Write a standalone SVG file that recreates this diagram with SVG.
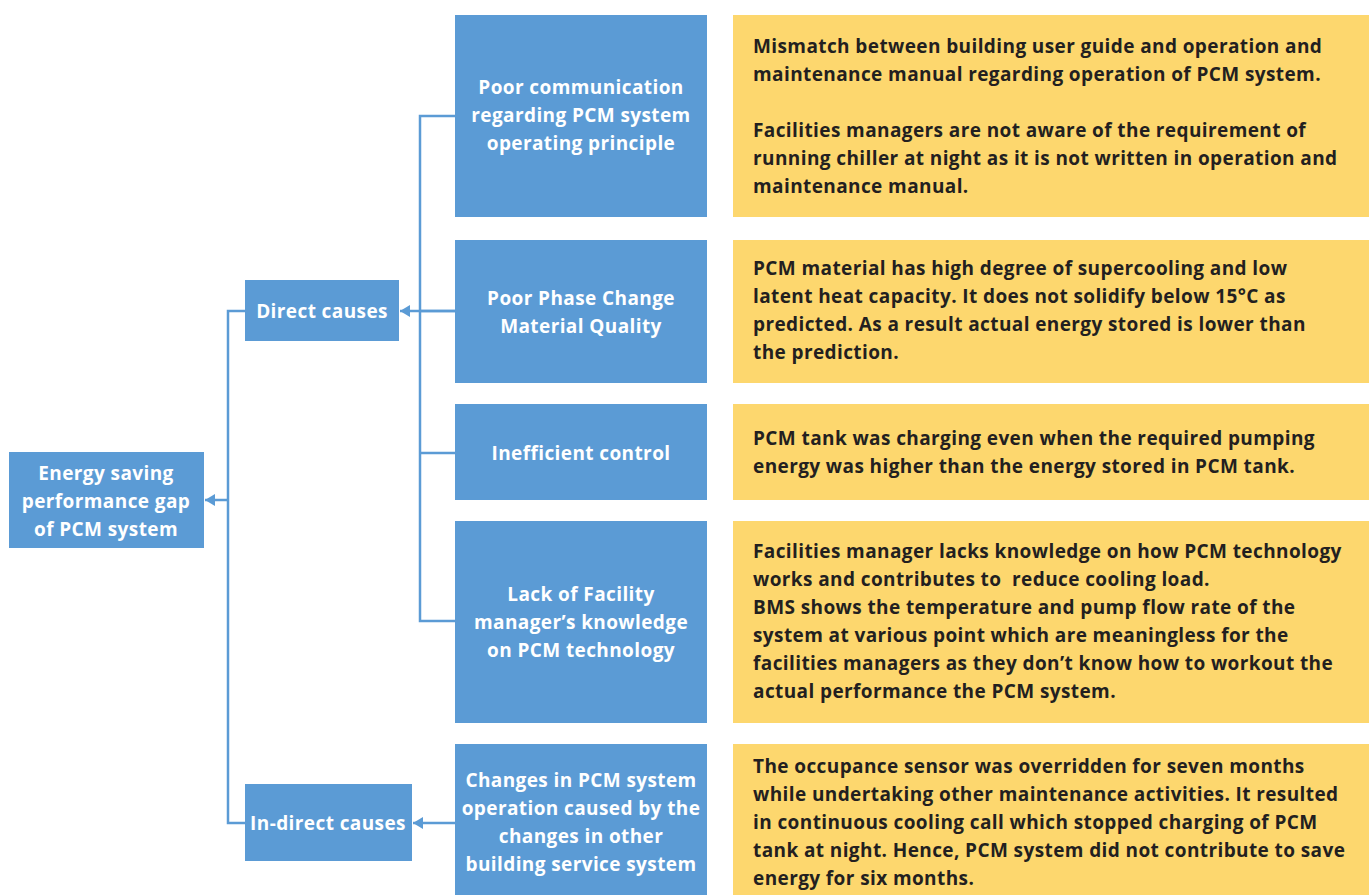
<svg xmlns="http://www.w3.org/2000/svg" width="1371" height="895" viewBox="0 0 1371 895">
  <style>
    .cause { fill: #5b9bd5; }
    .detail { fill: #fdd76e; }
    .lbl { font-family: "Open Sans", "Liberation Sans", sans-serif; font-weight: 700; font-size: 19px; letter-spacing: 0.4px; fill: #ffffff; text-anchor: middle; }
    .txt { font-family: "Open Sans", "Liberation Sans", sans-serif; font-weight: 700; font-size: 19px; letter-spacing: 0.4px; fill: #231f20; }
    .wire { fill: none; stroke: #5b9bd5; stroke-width: 2.5; }
  </style>
  <defs>
    <marker id="arrow" viewBox="0 0 10 12" refX="10" refY="6" markerWidth="10" markerHeight="12" markerUnits="userSpaceOnUse" orient="auto">
      <path d="M0,0 L10,6 L0,12 Z" fill="#5b9bd5"/>
    </marker>
  </defs>
  <rect width="1371" height="895" fill="#ffffff"/>

  <!-- connectors -->
  <g id="connectors">
    <!-- direct-cause branches feeding the right trunk -->
    <path class="wire" d="M455,116 H420 V621 H455"/>
    <path class="wire" d="M420,311 H455"/>
    <path class="wire" d="M420,453 H455"/>
    <path class="wire" d="M455,311 H400" marker-end="url(#arrow)"/>
    <!-- indirect branch -->
    <path class="wire" d="M455,823 H413" marker-end="url(#arrow)"/>
    <!-- left trunk into the main effect -->
    <path class="wire" d="M245,311 H228 V823 H245"/>
    <path class="wire" d="M228,500 H205" marker-end="url(#arrow)"/>
  </g>

  <!-- main effect -->
  <g id="effect">
    <rect class="cause" x="9" y="452" width="195" height="96"/>
    <text class="lbl" x="106" y="480">Energy saving</text>
    <text class="lbl" x="106" y="508">performance gap</text>
    <text class="lbl" x="106" y="536">of PCM system</text>
  </g>

  <g id="direct-causes">
    <rect class="cause" x="245" y="280" width="154" height="61"/>
    <text class="lbl" x="322" y="318">Direct causes</text>
  </g>

  <g id="indirect-causes">
    <rect class="cause" x="245" y="784" width="167" height="77"/>
    <text class="lbl" x="328" y="830">In-direct causes</text>
  </g>

  <!-- causes -->
  <g id="cause-communication">
    <rect class="cause" x="455" y="15" width="252" height="202"/>
    <text class="lbl" x="581" y="94">Poor communication</text>
    <text class="lbl" x="581" y="122">regarding PCM system</text>
    <text class="lbl" x="581" y="150">operating principle</text>
  </g>

  <g id="cause-material">
    <rect class="cause" x="455" y="240" width="252" height="143"/>
    <text class="lbl" x="581" y="305">Poor Phase Change</text>
    <text class="lbl" x="581" y="333">Material Quality</text>
  </g>

  <g id="cause-control">
    <rect class="cause" x="455" y="404" width="252" height="96"/>
    <text class="lbl" x="581" y="460">Inefficient control</text>
  </g>

  <g id="cause-knowledge">
    <rect class="cause" x="455" y="521" width="252" height="202"/>
    <text class="lbl" x="581" y="601">Lack of Facility</text>
    <text class="lbl" x="581" y="629">manager’s knowledge</text>
    <text class="lbl" x="581" y="657">on PCM technology</text>
  </g>

  <g id="cause-services">
    <rect class="cause" x="455" y="744" width="252" height="151"/>
    <text class="lbl" x="581" y="787">Changes in PCM system</text>
    <text class="lbl" x="581" y="815">operation caused by the</text>
    <text class="lbl" x="581" y="843">changes in other</text>
    <text class="lbl" x="581" y="871">building service system</text>
  </g>

  <!-- explanations -->
  <g id="detail-communication">
    <rect class="detail" x="733" y="15" width="636" height="202"/>
    <text class="txt" x="753" y="53">Mismatch between building user guide and operation and</text>
    <text class="txt" x="753" y="81">maintenance manual regarding operation of PCM system.</text>
    <text class="txt" x="753" y="137">Facilities managers are not aware of the requirement of</text>
    <text class="txt" x="753" y="165">running chiller at night as it is not written in operation and</text>
    <text class="txt" x="753" y="193">maintenance manual.</text>
  </g>

  <g id="detail-material">
    <rect class="detail" x="733" y="240" width="636" height="143"/>
    <text class="txt" x="753" y="275">PCM material has high degree of supercooling and low</text>
    <text class="txt" x="753" y="303">latent heat capacity. It does not solidify below 15°C as</text>
    <text class="txt" x="753" y="331">predicted. As a result actual energy stored is lower than</text>
    <text class="txt" x="753" y="359">the prediction.</text>
  </g>

  <g id="detail-control">
    <rect class="detail" x="733" y="404" width="636" height="96"/>
    <text class="txt" x="753" y="445">PCM tank was charging even when the required pumping</text>
    <text class="txt" x="753" y="473">energy was higher than the energy stored in PCM tank.</text>
  </g>

  <g id="detail-knowledge">
    <rect class="detail" x="733" y="521" width="636" height="202"/>
    <text class="txt" x="753" y="558">Facilities manager lacks knowledge on how PCM technology</text>
    <text class="txt" x="753" y="586" xml:space="preserve">works and contributes to  reduce cooling load.</text>
    <text class="txt" x="753" y="614">BMS shows the temperature and pump flow rate of the</text>
    <text class="txt" x="753" y="642">system at various point which are meaningless for the</text>
    <text class="txt" x="753" y="670">facilities managers as they don’t know how to workout the</text>
    <text class="txt" x="753" y="698">actual performance the PCM system.</text>
  </g>

  <g id="detail-services">
    <rect class="detail" x="733" y="744" width="636" height="151"/>
    <text class="txt" x="753" y="773">The occupance sensor was overridden for seven months</text>
    <text class="txt" x="753" y="801">while undertaking other maintenance activities. It resulted</text>
    <text class="txt" x="753" y="829">in continuous cooling call which stopped charging of PCM</text>
    <text class="txt" x="753" y="857">tank at night. Hence, PCM system did not contribute to save</text>
    <text class="txt" x="753" y="885">energy for six months.</text>
  </g>
</svg>
